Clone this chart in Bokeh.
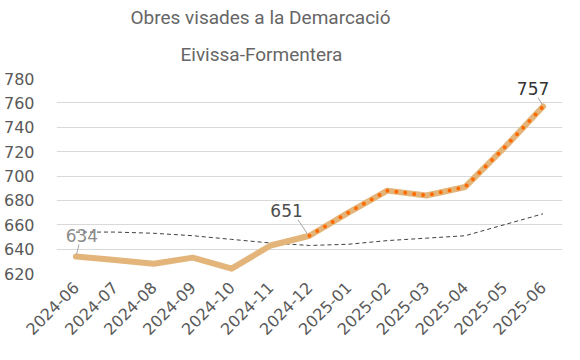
from bokeh.plotting import figure
from bokeh.models import FixedTicker, Title, Label, Range1d
from bokeh.embed import file_html
from bokeh.resources import INLINE

months = ["2024-06", "2024-07", "2024-08", "2024-09", "2024-10", "2024-11", "2024-12",
          "2025-01", "2025-02", "2025-03", "2025-04", "2025-05", "2025-06"]
obres = [634, 631, 628, 633, 624, 643, 651, 670, 688, 684, 691, 723, 757]
tendencia = [654, 654, 653, 651, 648, 645, 643, 644, 647, 649, 651, 660, 669]
highlight_start = 6  # from 2024-12 onwards dotted orange
y_ticks = [620, 640, 660, 680, 700, 720, 740, 760, 780]
labelled = [0, 6, 12]
label_dx = [6, -23, -10]
label_dy = [21, 25, 18]
label_colors = ["#8c8c8c", "#4d4d4d", "#333333"]
title_lines = ["Obres visades a la Demarcació", "Eivissa-Formentera"]

W, H = 564, 344
ML, MR, MT, MB = 55, 2, 78, 71
FW, FH = W - ML - MR, H - MT - MB
x0, x1 = -0.5, len(months) - 0.5
y0, y1 = 620, 780

p = figure(width=W, height=H, output_backend="svg", toolbar_location=None,
           x_range=Range1d(x0, x1), y_range=Range1d(y0, y1),
           min_border_left=ML, min_border_right=MR, min_border_top=MT, min_border_bottom=MB)
p.background_fill_color = "white"
p.border_fill_color = "white"
p.outline_line_color = None

p.title = Title(text=title_lines[0], align="left", offset=74, text_font="Roboto",
                text_font_size="19px", text_font_style="normal", text_color="#666666",
                standoff=0)
p.add_layout(Title(text=title_lines[1], align="left", offset=124, text_font="Roboto",
                   text_font_size="19px", text_font_style="normal", text_color="#666666",
                   standoff=25), "above")

xs = list(range(len(months)))
p.xaxis.ticker = FixedTicker(ticks=xs)
p.xaxis.major_label_overrides = {i: m for i, m in enumerate(months)}
p.xaxis.major_label_orientation = 0.785398
p.yaxis.ticker = FixedTicker(ticks=y_ticks)
for ax in (p.xaxis, p.yaxis):
    ax.axis_line_color = None
    ax.major_tick_line_color = None
    ax.minor_tick_line_color = None
    ax.major_label_text_font = "DejaVu Sans"
    ax.major_label_text_font_size = "16px"
    ax.major_label_text_color = "#595959"
p.xaxis.major_label_standoff = 5
p.yaxis.major_label_standoff = 16
p.xgrid.grid_line_color = None
p.ygrid.grid_line_color = "#d9d9d9"
p.ygrid.grid_line_width = 1

p.line(xs, tendencia, line_color="#404040", line_width=1, line_dash="4 3")
p.line(xs, obres, line_color="#E3B57A", line_width=6, line_join="round", line_cap="round")
p.line(xs[highlight_start:], obres[highlight_start:], line_color="#FF6A00", line_width=4,
       line_dash="0 9", line_cap="round", line_join="round")

px_x = FW / (x1 - x0)
px_y = FH / (y1 - y0)
for k, i in enumerate(labelled):
    lx = xs[i] + label_dx[k] / px_x
    ly = obres[i] + label_dy[k] / px_y
    p.add_layout(Label(x=lx, y=ly, text=str(obres[i]), text_align="center",
                       text_baseline="middle", text_font="DejaVu Sans", text_font_size="17px",
                       text_color=label_colors[k]))
    # leader line from label to point
    sx = xs[i] + (label_dx[k] * 0.5) / px_x
    sy = obres[i] + (label_dy[k] - 9) / px_y
    ex = xs[i] + (label_dx[k] * 0.1) / px_x
    ey = obres[i] + 2 / px_y
    p.segment([sx], [sy], [ex], [ey], line_color="#a6a6a6", line_width=1)

open("out.html", "w").write(file_html(p, INLINE))
